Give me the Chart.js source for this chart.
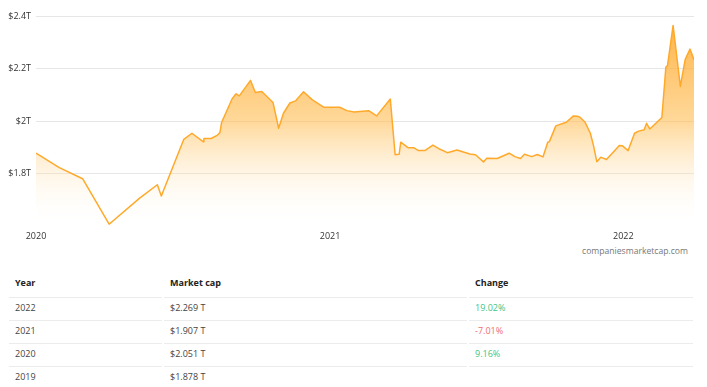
<!DOCTYPE html>
<html>
<head>
<meta charset="utf-8">
<script src="https://cdn.jsdelivr.net/npm/chart.js@4"></script>
<style>
  body { margin: 0; background: #fff; font-family: "Open Sans", sans-serif; }
  #wrap { position: relative; width: 707px; height: 245px; }
  #watermark { position: absolute; right: 19px; top: 245px; font-size: 8.6px; color: #777; }
  table { margin: 23px 0 0 7px; width: 688px; border-collapse: separate; border-spacing: 2px 0; table-layout: fixed; font-size: 9px; }
  th { text-align: left; color: #222; font-weight: 700; height: 29px; padding: 0 6px; }
  td { color: #444; height: 23px; box-sizing: border-box; padding: 0 6px 3px 6px; border-top: 1px solid #ececec; }
  .up { color: #3cc585; }
  .down { color: #f26d6d; }
</style>
</head>
<body>
<div id="wrap">
  <canvas id="capChart" width="707" height="245"></canvas>
</div>
<div id="watermark">companiesmarketcap.com</div>
<table id="capTable">
  <colgroup><col style="width:153px"><col style="width:303px"><col style="width:224px"></colgroup>
  <thead><tr><th>Year</th><th>Market cap</th><th>Change</th></tr></thead>
  <tbody></tbody>
</table>
<script>
// days since 2020-01-01 and market cap in trillions USD
const dayOffsets = [0, 29, 58, 91, 129, 151, 156, 184, 194, 208, 209, 218, 226, 229, 231, 244, 249, 253, 267, 273,
    281, 295, 302, 308, 316, 323, 333, 344, 358, 378, 387, 396, 403, 414, 424, 441, 447, 452, 454, 463,
    470, 476, 484, 494, 503, 512, 524, 540, 547, 557, 561, 574, 589, 596, 603, 608, 617, 624, 631, 637,
    639, 647, 660, 669, 674, 677, 683, 690, 694, 698, 703, 710, 719, 726, 730, 737, 745, 750, 757, 760,
    764, 779, 784, 786, 793, 802, 808, 814, 819];
const capValues = [1.878, 1.823, 1.781, 1.608, 1.707, 1.758, 1.715, 1.931, 1.954, 1.922, 1.934, 1.934, 1.947, 1.957, 1.995, 2.084, 2.104, 2.096, 2.155, 2.109,
    2.113, 2.071, 1.973, 2.030, 2.069, 2.077, 2.112, 2.081, 2.053, 2.053, 2.040, 2.035, 2.037, 2.040, 2.020, 2.084, 1.872, 1.874, 1.920, 1.899,
    1.899, 1.888, 1.888, 1.909, 1.893, 1.880, 1.890, 1.875, 1.872, 1.845, 1.859, 1.858, 1.878, 1.865, 1.858, 1.874, 1.865, 1.873, 1.864, 1.920,
    1.922, 1.982, 1.996, 2.020, 2.019, 2.015, 1.998, 1.954, 1.906, 1.846, 1.863, 1.854, 1.884, 1.907, 1.906, 1.888, 1.954, 1.962, 1.967, 1.992,
    1.970, 2.014, 2.206, 2.211, 2.364, 2.132, 2.234, 2.274, 2.234];

const yearTickDays = [0, 366, 731];
const yearTickLabels = ['2020', '2021', '2022'];
const capTickValues = [1.8, 2.0, 2.2, 2.4];
const capTickLabels = ['$1.8T', '$2T', '$2.2T', '$2.4T'];

const tableYears = ['2022', '2021', '2020', '2019'];
const tableCaps = ['$2.269 T', '$1.907 T', '$2.051 T', '$1.878 T'];
const tableChanges = ['19.02%', '-7.01%', '9.16%', ''];

// --- table below the chart ---
const tbody = document.querySelector('#capTable tbody');
tableYears.forEach((yr, i) => {
    const tr = document.createElement('tr');
    const change = tableChanges[i];
    const cls = change === '' ? '' : (change.startsWith('-') ? 'down' : 'up');
    tr.innerHTML = '<td>' + yr + '</td><td>' + tableCaps[i] + '</td><td class="' + cls + '">' + change + '</td>';
    tbody.appendChild(tr);
});

// --- area chart ---
const points = dayOffsets.map((d, i) => ({ x: d, y: capValues[i] }));

function areaGradient(context) {
    const area = context.chart.chartArea;
    if (!area) return 'rgba(255,170,50,0.5)';
    const g = context.chart.ctx.createLinearGradient(0, area.top, 0, area.bottom);
    g.addColorStop(0, 'rgba(255,168,45,0.9)');
    g.addColorStop(0.5, 'rgba(255,190,85,0.6)');
    g.addColorStop(1, 'rgba(255,255,255,0)');
    return g;
}

new Chart(document.getElementById('capChart'), {
    type: 'line',
    data: {
        datasets: [{
            data: points,
            borderColor: '#ffa92b',
            borderWidth: 1.5,
            borderJoinStyle: 'round',
            backgroundColor: areaGradient,
            fill: 'start',
            pointRadius: 0,
            tension: 0
        }]
    },
    options: {
        responsive: false,
        animation: false,
        layout: { padding: { top: 16, right: 13, left: 0, bottom: 0 } },
        plugins: { legend: { display: false }, tooltip: { enabled: false } },
        scales: {
            x: {
                type: 'linear',
                min: 0,
                max: dayOffsets[dayOffsets.length - 1],
                grid: { display: false, drawTicks: false },
                border: { display: false },
                afterBuildTicks: (scale) => { scale.ticks = yearTickDays.map(v => ({ value: v })); },
                afterFit: (scale) => { scale.height = 18.7; },
                ticks: {
                    padding: 5,
                    maxRotation: 0,
                    autoSkip: false,
                    color: '#333',
                    font: { family: 'Open Sans', size: 9 },
                    callback: (v) => yearTickLabels[yearTickDays.indexOf(v)]
                }
            },
            y: {
                min: 1.6,
                max: 2.4,
                grid: { color: '#e6e6e6', drawTicks: false },
                border: { display: false },
                afterBuildTicks: (scale) => { scale.ticks = capTickValues.map(v => ({ value: v })); },
                afterFit: (scale) => { scale.width = 36; },
                ticks: {
                    padding: 5,
                    color: '#333',
                    font: { family: 'Open Sans', size: 9 },
                    callback: (v) => capTickLabels[capTickValues.findIndex(t => Math.abs(t - v) < 1e-6)]
                }
            }
        }
    }
});
</script>
</body>
</html>
